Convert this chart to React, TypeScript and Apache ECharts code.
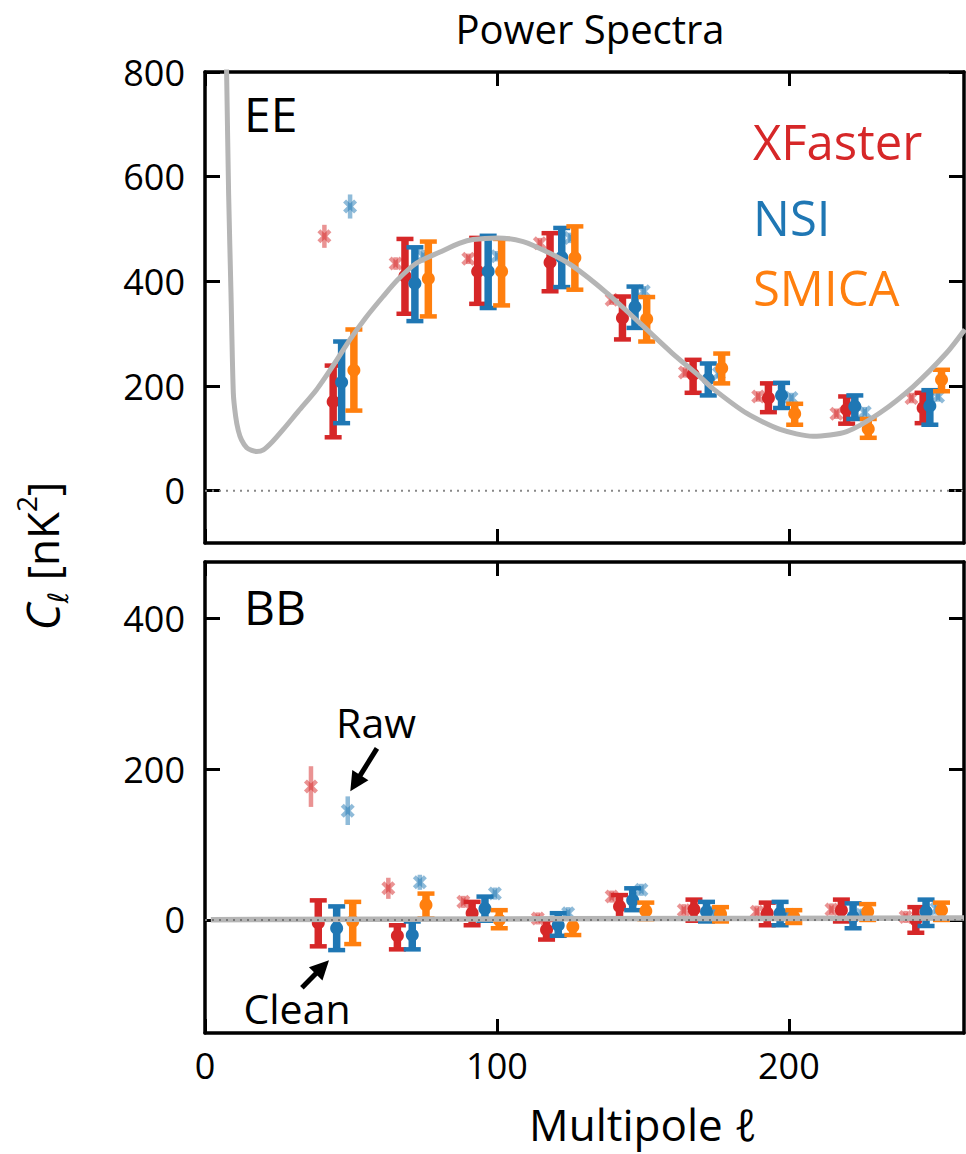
import React, { useEffect, useRef } from "react";
import * as echarts from "echarts";

// ---------- colours ----------
const RED = "#d62728";
const BLUE = "#1f77b4";
const ORANGE = "#ff7f0e";
const FONT = "'Open Sans', 'DejaVu Sans', sans-serif";

// ---------- axis ticks ----------
const xTicks = [0, 100, 200];
const eeTicks = [0, 200, 400, 600, 800];
const bbTicks = [0, 200, 400];

// ---------- EE theory curve ----------
const eeTheoryEll = [6.5, 7.0, 7.4, 8.1, 8.9, 9.7, 10.5, 11.4, 12.5, 14.3, 16.0, 17.7, 20.0, 23.0, 26.8, 32, 38.2, 44, 49.7, 55, 61, 66, 72.5, 80.5, 87.3, 91.8, 100.3, 109, 118, 126, 137.6, 149, 160, 169.5, 174, 185.5, 197, 208.3, 219.8, 231, 242.6, 254, 260.3];
const eeTheoryVal = [1100, 930, 800, 565, 378, 187, 142, 115, 97, 82, 77, 75, 78, 93, 117, 152, 193, 240, 289, 330, 371, 403, 435, 456, 473, 480, 483, 476, 454, 429, 378, 320, 263, 218, 195, 148, 117, 104, 113, 148, 199, 263, 308];

// ---------- BB theory curve ----------
const bbTheoryEll = [2, 60, 120, 180, 260];
const bbTheoryVal = [0.3, 1, 1.5, 2, 2.5];

// ---------- EE clean ----------
const eeEllXF = [43.9, 68.5, 93.4, 118.2, 143.0, 167.2, 193.0, 219.8, 246.0];
const eeXF = [170, 410, 419, 436, 330, 222, 177, 155, 158];
const eeXFLo = [102, 338, 357, 381, 289, 187, 150, 128, 129];
const eeXFHi = [239, 481, 483, 492, 371, 250, 205, 180, 187];

const eeEllNSI = [46.8, 71.9, 97.0, 122.2, 147.3, 172.4, 197.5, 222.6, 248.3];
const eeNSI = [207, 396, 419, 446, 351, 213, 182, 161, 162];
const eeNSILo = [129, 324, 349, 389, 311, 182, 158, 137, 126];
const eeNSIHi = [285, 465, 487, 502, 390, 243, 206, 182, 192];

const eeEllSM = [51.0, 76.5, 101.6, 126.7, 151.3, 177.0, 202.0, 227.2, 252.3];
const eeSM = [230, 405, 419, 445, 328, 234, 147, 118, 212];
const eeSMLo = [153, 333, 354, 384, 285, 205, 126, 101, 190];
const eeSMHi = [308, 476, 481, 505, 370, 262, 166, 137, 231];

// ---------- EE raw ----------
const eeEllXFRaw = [40.9, 65.3, 90.2, 114.7, 139.3, 164.4, 189.5, 216.3, 242.0];
const eeXFRaw = [486, 434, 443, 473, 365, 226, 180, 147, 177];
const eeXFRawErr = [22, 12, 10, 10, 10, 10, 10, 10, 10];

const eeEllNSIRaw = [49.7, 74.8, 100.1, 125.2, 150.3, 176.0, 200.9, 226.0, 251.1];
const eeNSIRaw = [543, 448, 448, 483, 381, 224, 177, 150, 180];
const eeNSIRawErr = [23, 12, 10, 10, 10, 10, 10, 10, 10];

// ---------- BB clean ----------
const bbEllXF = [38.8, 65.9, 91.5, 117.0, 142.0, 167.5, 192.6, 218.0, 243.5];
const bbXF = [-4, -21, 9, -13, 18, 14, 9, 13, 0];
const bbXFLo = [-35, -39, -7, -26, 2, -1, -7, -2, -17];
const bbXFHi = [26, -7, 24, 0, 33, 27, 23, 27, 17];

const bbEllNSI = [45.1, 71.0, 95.9, 121.0, 146.5, 171.8, 197.0, 222.0, 247.0];
const bbNSI = [-11, -20, 15, -7, 26, 11, 9, 4, 11];
const bbNSILo = [-40, -39, -1, -21, 13, -2, -7, -11, -8];
const bbNSIHi = [18, -2, 31, 9, 42, 24, 24, 22, 27];

const bbEllSM = [50.6, 75.7, 100.8, 126.0, 151.0, 176.6, 201.7, 227.0, 252.3];
const bbSM = [-2, 20, 0, -9, 12, 8, 4, 11, 13];
const bbSMLo = [-32, 2, -11, -20, 1, -2, -4, 0, 0];
const bbSMHi = [24, 35, 13, 2, 23, 17, 13, 21, 23];

// ---------- BB raw ----------
const bbEllXFRaw = [36.3, 62.8, 88.5, 114.0, 139.3, 164.0, 189.0, 214.6, 240.0];
const bbXFRaw = [177, 42, 24, 2, 31, 13, 11, 14, 4];
const bbXFRawErr = [27, 14, 8, 8, 8, 8, 8, 8, 8];

const bbEllNSIRaw = [48.9, 73.6, 99.3, 124.4, 149.5, 174.7, 199.8, 225.0, 250.6];
const bbNSIRaw = [145, 50, 35, 9, 40, 10, 7, 7, 15];
const bbNSIRawErr = [19, 10, 8, 8, 8, 8, 8, 8, 8];

// ---------- annotation arrows (data coords) ----------
const rawArrow = [[58.9, 227.6], [51.5, 181.5]];
const cleanArrow = [[33.2, -90], [40.2, -62.5]];

function zip(a: number[], b: number[]) {
  return a.map((v, i) => [v, b[i]]);
}

function cleanRender(color: string) {
  return (params: any, api: any) => {
    const c = api.coord([api.value(0), api.value(1)]);
    const lo = api.coord([api.value(0), api.value(2)]);
    const hi = api.coord([api.value(0), api.value(3)]);
    const x = c[0];
    return {
      type: "group",
      children: [
        { type: "line", shape: { x1: x, y1: lo[1], x2: x, y2: hi[1] }, style: { stroke: color, lineWidth: 7.5 } },
        { type: "line", shape: { x1: x - 8.5, y1: lo[1], x2: x + 8.5, y2: lo[1] }, style: { stroke: color, lineWidth: 4.5 } },
        { type: "line", shape: { x1: x - 8.5, y1: hi[1], x2: x + 8.5, y2: hi[1] }, style: { stroke: color, lineWidth: 4.5 } },
        { type: "circle", shape: { cx: x, cy: c[1], r: 6.5 }, style: { fill: color } },
      ],
    };
  };
}

function rawRender(color: string) {
  return (params: any, api: any) => {
    const c = api.coord([api.value(0), api.value(1)]);
    const lo = api.coord([api.value(0), api.value(1) - api.value(2)]);
    const hi = api.coord([api.value(0), api.value(1) + api.value(2)]);
    const x = c[0];
    const y = c[1];
    const s = 7;
    const t = 3;
    const pts = [
      [0, -t], [s - t, -s], [s, -s + t], [t, 0], [s, s - t], [s - t, s],
      [0, t], [-s + t, s], [-s, s - t], [-t, 0], [-s, -s + t], [-s + t, -s],
    ].map((p) => [x + p[0], y + p[1]]);
    return {
      type: "group",
      children: [
        { type: "line", shape: { x1: x, y1: lo[1], x2: x, y2: hi[1] }, style: { stroke: color, lineWidth: 4.5, opacity: 0.5 } },
        { type: "polygon", shape: { points: pts }, style: { fill: color, opacity: 0.5 } },
      ],
    };
  };
}

function cleanSeries(ell: number[], v: number[], lo: number[], hi: number[], color: string, ax: number) {
  return {
    type: "custom",
    xAxisIndex: ax,
    yAxisIndex: ax,
    renderItem: cleanRender(color),
    data: ell.map((e, i) => [e, v[i], lo[i], hi[i]]),
    silent: true,
  };
}

function rawSeries(ell: number[], v: number[], err: number[], color: string, ax: number) {
  return {
    type: "custom",
    xAxisIndex: ax,
    yAxisIndex: ax,
    renderItem: rawRender(color),
    data: ell.map((e, i) => [e, v[i], err[i]]),
    silent: true,
  };
}

function xAxisDef(grid: number, position: string, labels: boolean) {
  return {
    type: "value",
    gridIndex: grid,
    position,
    min: 0,
    max: 260,
    axisLine: { show: true, onZero: false, lineStyle: { color: "#000", width: 3.5 } },
    axisTick: { show: true, inside: true, length: 14, customValues: xTicks, lineStyle: { color: "#000", width: 3 } },
    axisLabel: {
      show: labels,
      customValues: xTicks,
      fontSize: 36,
      fontFamily: FONT,
      color: "#000",
      margin: 14,
    },
    splitLine: { show: false },
  };
}

function yAxisDef(grid: number, position: string, labels: boolean, min: number, max: number, ticks: number[]) {
  return {
    type: "value",
    gridIndex: grid,
    position,
    min,
    max,
    axisLine: { show: true, onZero: false, lineStyle: { color: "#000", width: 3.5 } },
    axisTick: { show: true, inside: true, length: 15, customValues: ticks, lineStyle: { color: "#000", width: 3 } },
    axisLabel: {
      show: labels,
      customValues: ticks,
      fontSize: 36,
      fontFamily: FONT,
      color: "#000",
      margin: 20,
    },
    splitLine: { show: false },
  };
}

function textEl(text: string, x: number, y: number, size: number, color: string, align: string = "left") {
  return {
    type: "text",
    x,
    y,
    silent: true,
    style: { text, fill: color, font: `${size}px ${FONT}`, align, verticalAlign: "middle" },
  };
}

export default function App() {
  const ref = useRef<HTMLDivElement>(null);

  useEffect(() => {
    if (!ref.current) return;
    const chart = echarts.init(ref.current, null, { renderer: "svg" });

    const option: any = {
      animation: false,
      backgroundColor: "#fff",
      grid: [
        { left: 205, top: 72, width: 759, height: 471 },
        { left: 205, top: 562, width: 759, height: 471 },
      ],
      xAxis: [
        xAxisDef(0, "bottom", false),
        xAxisDef(1, "bottom", true),
        xAxisDef(0, "top", false),
        xAxisDef(1, "top", false),
      ],
      yAxis: [
        yAxisDef(0, "left", true, -100, 800, eeTicks),
        yAxisDef(1, "left", true, -150, 475, bbTicks),
        yAxisDef(0, "right", false, -100, 800, eeTicks),
        yAxisDef(1, "right", false, -150, 475, bbTicks),
      ],
      series: [
        // EE theory
        {
          type: "line",
          xAxisIndex: 0,
          yAxisIndex: 0,
          data: zip(eeTheoryEll, eeTheoryVal),
          showSymbol: false,
          smooth: 0.25,
          lineStyle: { color: "#b5b5b5", width: 5 },
          silent: true,
          clip: true,
        },
        {
          type: "line",
          xAxisIndex: 0,
          yAxisIndex: 0,
          data: [[0, 0], [260, 0]],
          showSymbol: false,
          lineStyle: { color: "#888", width: 2, type: [2, 5] },
          silent: true,
        },
        // BB theory
        {
          type: "line",
          xAxisIndex: 1,
          yAxisIndex: 1,
          data: zip(bbTheoryEll, bbTheoryVal),
          showSymbol: false,
          lineStyle: { color: "#b5b5b5", width: 5.5 },
          silent: true,
        },
        {
          type: "line",
          xAxisIndex: 1,
          yAxisIndex: 1,
          data: [[0, 0], [260, 0]],
          showSymbol: false,
          lineStyle: { color: "#777", width: 2, type: [2, 5] },
          silent: true,
          markLine: {
            silent: true,
            symbol: ["none", "triangle"],
            symbolSize: [19, 19],
            label: { show: false },
            lineStyle: { color: "#000", width: 5, type: "solid" },
            emphasis: { disabled: true },
            data: [
              [{ coord: rawArrow[0] }, { coord: rawArrow[1] }],
              [{ coord: cleanArrow[0] }, { coord: cleanArrow[1] }],
            ],
          },
        },
        // EE points
        rawSeries(eeEllXFRaw, eeXFRaw, eeXFRawErr, RED, 0),
        cleanSeries(eeEllXF, eeXF, eeXFLo, eeXFHi, RED, 0),
        cleanSeries(eeEllNSI, eeNSI, eeNSILo, eeNSIHi, BLUE, 0),
        rawSeries(eeEllNSIRaw, eeNSIRaw, eeNSIRawErr, BLUE, 0),
        cleanSeries(eeEllSM, eeSM, eeSMLo, eeSMHi, ORANGE, 0),
        // BB points
        rawSeries(bbEllXFRaw, bbXFRaw, bbXFRawErr, RED, 1),
        cleanSeries(bbEllXF, bbXF, bbXFLo, bbXFHi, RED, 1),
        cleanSeries(bbEllNSI, bbNSI, bbNSILo, bbNSIHi, BLUE, 1),
        rawSeries(bbEllNSIRaw, bbNSIRaw, bbNSIRawErr, BLUE, 1),
        cleanSeries(bbEllSM, bbSM, bbSMLo, bbSMHi, ORANGE, 1),
      ],
      graphic: [
        textEl("Power Spectra", 590, 28, 40, "#000", "center"),
        textEl("EE", 244, 113, 48, "#000"),
        textEl("BB", 244, 606, 48, "#000"),
        textEl("XFaster", 753, 141, 49, RED),
        textEl("NSI", 753, 217, 49, BLUE),
        textEl("SMICA", 753, 287, 49, ORANGE),
        textEl("Raw", 376, 722, 41, "#000", "center"),
        textEl("Clean", 297, 1008, 41, "#000", "center"),
        textEl("Multipole \u2113", 643, 1124, 44, "#000", "center"),
        {
          type: "text",
          x: 42,
          y: 556,
          rotation: Math.PI / 2,
          silent: true,
          style: {
            text: "{c|C}{s|\u2113}{m| [nK}{p|2}{m|]}",
            align: "center",
            verticalAlign: "middle",
            fill: "#000",
            rich: {
              c: { fontSize: 46, fontFamily: FONT, fontStyle: "italic", lineHeight: 60 },
              m: { fontSize: 44, fontFamily: FONT, lineHeight: 60 },
              s: { fontSize: 28, fontFamily: "'DejaVu Sans', sans-serif", fontStyle: "italic", lineHeight: 36, verticalAlign: "bottom" },
              p: { fontSize: 28, fontFamily: FONT, lineHeight: 36, verticalAlign: "top" },
            },
          },
        },
      ],
    };

    chart.setOption(option);
    return () => chart.dispose();
  }, []);

  return (
    <div
      ref={ref}
      style={{ position: "absolute", left: 0, top: 0, width: 966, height: 1154, background: "#fff" }}
    />
  );
}
